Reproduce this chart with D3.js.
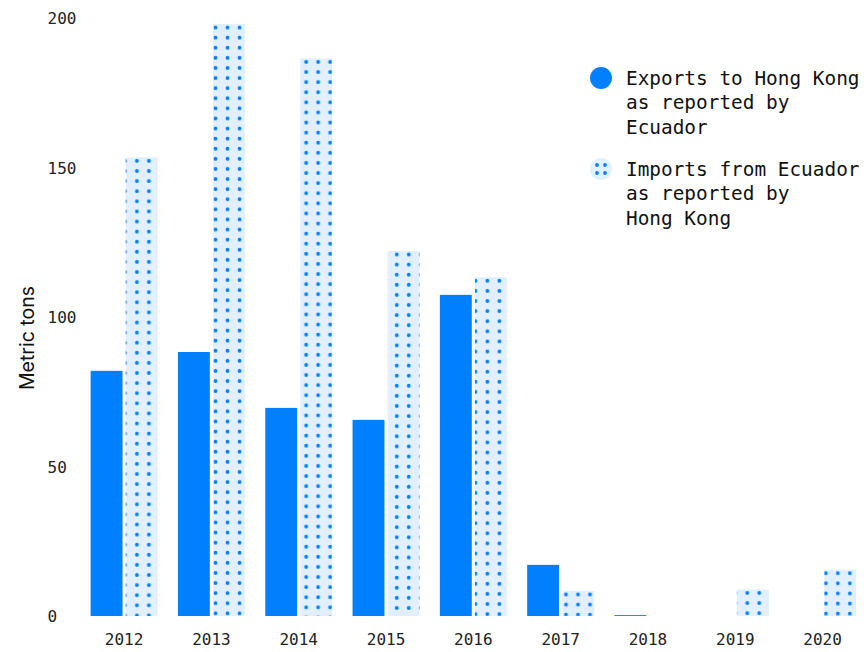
<!DOCTYPE html>
<html>
<head>
<meta charset="utf-8">
<script src="https://cdn.jsdelivr.net/npm/d3@7"></script>
<style>
  html, body { margin: 0; padding: 0; background: #fff; }
  svg { display: block; }
</style>
</head>
<body>
<svg id="chart" width="867" height="652"></svg>
<script>
const years = ["2012", "2013", "2014", "2015", "2016", "2017", "2018", "2019", "2020"];
const exportsEcuador = [82, 88.3, 69.6, 65.6, 107.4, 17.1, 0.3, 0, 0];
const importsHongKong = [153.4, 198, 186.5, 122.1, 113.3, 8.4, 0, 8.9, 15.5];
const yTicks = [0, 50, 100, 150, 200];
const seriesKeys = ["exports", "imports"];
const legendLabels = [
  ["Exports to Hong Kong", "as reported by", "Ecuador"],
  ["Imports from Ecuador", "as reported by", "Hong Kong"]
];
const axisTitle = "Metric tons";

const BLUE = "#0080ff";
const LIGHT = "#e1efff";
const MONO = "'DejaVu Sans Mono', 'Liberation Mono', monospace";

const svg = d3.select("#chart");

const x = d3.scaleBand().domain(years).range([80.5, 866.2]).paddingInner(0.233).paddingOuter(0.116);
const xSub = d3.scaleBand().domain(seriesKeys).range([0, x.bandwidth()]).paddingInner(0.09);
const y = d3.scaleLinear().domain([0, 200]).range([616, 18]);

const data = years.map((yr, i) => ({ year: yr, exports: exportsEcuador[i], imports: importsHongKong[i] }));

const defs = svg.append("defs");

// Y axis labels (no line, no ticks)
const yAxis = d3.axisLeft(y).tickValues(yTicks).tickSize(0).tickPadding(0).tickFormat(d3.format("d"));
const gy = svg.append("g").attr("transform", "translate(47.5,0)").call(yAxis);
gy.select(".domain").remove();
gy.selectAll("text")
  .attr("text-anchor", "start")
  .attr("x", 0)
  .attr("dy", "0.35em")
  .style("font-family", MONO)
  .style("font-size", "16px")
  .style("fill", "#222");

// X axis labels
const xAxis = d3.axisBottom(x).tickSize(0).tickPadding(0);
const gx = svg.append("g").attr("transform", "translate(0,639)").call(xAxis);
gx.select(".domain").remove();
gx.selectAll("text")
  .attr("y", 0)
  .attr("dy", "0.35em")
  .style("font-family", MONO)
  .style("font-size", "16px")
  .style("fill", "#222");

// Axis title
svg.append("text")
  .attr("transform", "translate(34,338) rotate(-90)")
  .attr("text-anchor", "middle")
  .style("font-family", "Inter, 'Noto Sans', sans-serif")
  .style("font-size", "19.5px")
  .style("fill", "#111")
  .text(axisTitle);

// Bars
const groups = svg.append("g").selectAll("g")
  .data(data).join("g")
  .attr("transform", d => `translate(${x(d.year)},0)`);

groups.append("rect")
  .attr("x", xSub("exports"))
  .attr("width", xSub.bandwidth())
  .attr("y", d => y(d.exports))
  .attr("height", d => y(0) - y(d.exports))
  .attr("fill", BLUE);

// per-bar dot patterns anchored at each bar's top-left
data.forEach((d, i) => {
  const bx = x(d.year) + xSub("imports");
  const by = y(d.imports);
  const p = defs.append("pattern")
    .attr("id", "dots" + i)
    .attr("patternUnits", "userSpaceOnUse")
    .attr("x", bx).attr("y", by)
    .attr("width", 12).attr("height", 10.1);
  p.append("rect").attr("width", 12).attr("height", 10.1).attr("fill", LIGHT);
  p.append("circle").attr("cx", 4.6).attr("cy", 3.6).attr("r", 1.9).attr("fill", BLUE);
});

groups.append("rect")
  .attr("x", xSub("imports"))
  .attr("width", xSub.bandwidth())
  .attr("y", d => y(d.imports))
  .attr("height", d => y(0) - y(d.imports))
  .attr("fill", (d, i) => `url(#dots${i})`);

// Legend
const legend = svg.append("g");
const legendY = [78, 169];
legendLabels.forEach((lines, i) => {
  const g = legend.append("g").attr("transform", `translate(0,${legendY[i]})`);
  if (i === 0) {
    g.append("circle").attr("cx", 601).attr("cy", 0).attr("r", 11).attr("fill", BLUE);
  } else {
    g.append("circle").attr("cx", 601).attr("cy", 0).attr("r", 11).attr("fill", LIGHT);
    [[-4, -4], [4, -4], [-4, 4], [4, 4]].forEach(([dx, dy]) => {
      g.append("circle").attr("cx", 601 + dx).attr("cy", dy).attr("r", 1.9).attr("fill", BLUE);
    });
  }
  lines.forEach((t, j) => {
    g.append("text")
      .attr("x", 626)
      .attr("y", j * 24.5)
      .attr("dy", "0.35em")
      .style("font-family", MONO)
      .style("font-size", "19.4px")
      .style("fill", "#111")
      .text(t);
  });
});
</script>
</body>
</html>
